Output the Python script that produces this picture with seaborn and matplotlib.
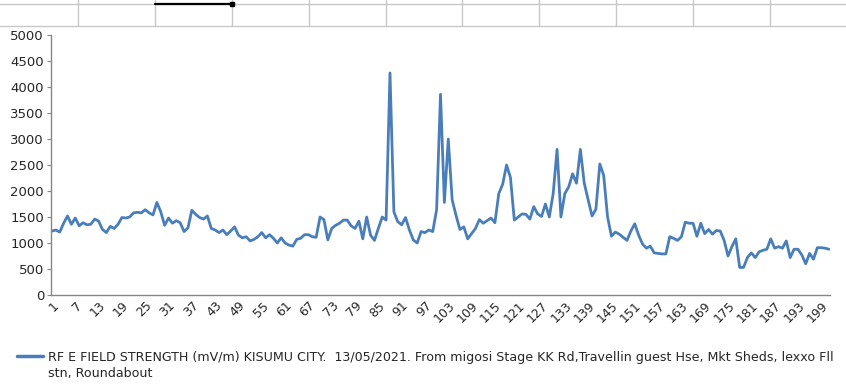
import numpy as np
import pandas as pd
import matplotlib
matplotlib.use('Agg')
import matplotlib.pyplot as plt
import seaborn as sns
from matplotlib.lines import Line2D

# RF E-field strength readings (mV/m), one per sample point
field_strength = [
    1230, 1250, 1210, 1380, 1520, 1360, 1480, 1330, 1390, 1350,
    1360, 1460, 1420, 1260, 1200, 1320, 1280, 1360, 1490, 1480,
    1500, 1580, 1590, 1580, 1640, 1580, 1540, 1780, 1600, 1340,
    1480, 1380, 1430, 1390, 1220, 1290, 1630, 1550, 1490, 1460,
    1520, 1280, 1250, 1200, 1250, 1160, 1230, 1310, 1150, 1100,
    1120, 1040, 1070, 1120, 1200, 1100, 1160, 1090, 1000, 1100,
    1000, 960, 940, 1070, 1090, 1160, 1160, 1120, 1110, 1500,
    1450, 1060, 1280, 1340, 1380, 1440, 1440, 1330, 1280, 1420,
    1080, 1500, 1150, 1050, 1280, 1500, 1440, 4270, 1600, 1410,
    1350, 1490, 1250, 1060, 1000, 1220, 1200, 1250, 1220, 1640,
    3860, 1780, 3000, 1830, 1530, 1260, 1310, 1080, 1180, 1280,
    1450, 1380, 1430, 1480, 1390, 1950, 2130, 2500, 2260, 1440,
    1500, 1560, 1550, 1460, 1700, 1560, 1510, 1750, 1500, 1950,
    2800, 1500, 1950, 2080, 2330, 2150, 2800, 2150, 1830, 1520,
    1650, 2520, 2300, 1500, 1130, 1210, 1170, 1110, 1050, 1230,
    1370, 1150, 980, 900, 940, 810, 800, 790, 790, 1120,
    1090, 1050, 1120, 1400, 1380, 1380, 1130, 1380, 1180, 1260,
    1170, 1240, 1230, 1050, 750, 930, 1080, 530, 530, 720,
    810, 720, 830, 860, 880, 1080, 900, 930, 900, 1040,
    720, 880, 880, 770, 600, 800, 690, 910, 910, 900, 880,
]
sample_no = list(range(1, len(field_strength) + 1))
x_ticks = list(range(1, 200, 6))
y_ticks = list(range(0, 5001, 500))

legend_line1 = ("RF E FIELD STRENGTH (mV/m) KISUMU CITY.  13/05/2021. From migosi Stage KK Rd,"
                "Travellin guest Hse, Mkt Sheds, lexxo Fll")
legend_line2 = "stn, Roundabout"

LINE_COLOR = '#4a7ebb'
W, H = 846, 384

df = pd.DataFrame({'sample': sample_no, 'field': field_strength})

sns.set_style('white')
plt.rcParams['font.family'] = ['DejaVu Sans']

fig = plt.figure(figsize=(W / 100, H / 100), dpi=100)
ax = fig.add_axes([51 / W, 1 - 295 / H, (830 - 51) / W, (295 - 35) / H])

sns.lineplot(data=df, x='sample', y='field', ax=ax, color=LINE_COLOR,
             linewidth=2.0, legend=False)

ax.set_xlim(0.75, 201.25)
ax.set_ylim(0, 5000)
ax.set_xticks(x_ticks)
ax.set_xticklabels([str(t) for t in x_ticks], rotation=45, ha='right',
                   rotation_mode='anchor', fontsize=9)
ax.set_yticks(y_ticks)
ax.set_yticklabels([str(t) for t in y_ticks], fontsize=9.5)
ax.set_xlabel('')
ax.set_ylabel('')
for side in ['top', 'right']:
    ax.spines[side].set_visible(False)
for side in ['left', 'bottom']:
    ax.spines[side].set_color('#868686')
    ax.spines[side].set_linewidth(1)
ax.tick_params(axis='y', length=3, width=0.8, color='#868686', pad=2, left=True)
ax.tick_params(axis='x', length=0, pad=3)

# spreadsheet cells peeking above the chart
grid_c = '#c8c8c8'
for yy in [4, 26]:
    fig.add_artist(Line2D([0, 1], [1 - yy / H] * 2, color=grid_c, lw=1))
for xx in [78, 155, 232, 309, 386, 462, 539, 616, 693, 770]:
    fig.add_artist(Line2D([xx / W] * 2, [1 - 26 / H, 1], color=grid_c, lw=1))
fig.add_artist(Line2D([155 / W, 232 / W], [1 - 4 / H] * 2, color='black', lw=1.6))
fig.add_artist(Line2D([232 / W], [1 - 4 / H], marker='s', ms=3, color='black'))

# legend below the plot
fig.add_artist(Line2D([17 / W, 43 / W], [1 - 356 / H] * 2, color=LINE_COLOR, lw=2.5))
fig.text(48 / W, 1 - 357 / H, legend_line1, fontsize=9.1, va='center', ha='left')
fig.text(48 / W, 1 - 373 / H, legend_line2, fontsize=9.1, va='center', ha='left')

fig.savefig('out.png', dpi=100)
plt.close(fig)
